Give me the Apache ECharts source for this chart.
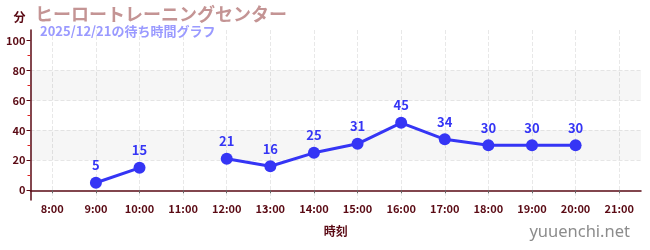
<!DOCTYPE html>
<html>
<head>
<meta charset="utf-8">
<script src="https://cdn.jsdelivr.net/npm/echarts@6/dist/echarts.min.js"></script>
<style>
html,body{margin:0;padding:0;background:#fff;}
#c{width:650px;height:250px;}
</style>
</head>
<body>
<div id="c"></div>
<script>
const categories = ['8:00','9:00','10:00','11:00','12:00','13:00','14:00','15:00','16:00','17:00','18:00','19:00','20:00','21:00'];
const waitTimes = [null, 5, 15, null, 21, 16, 25, 31, 45, 34, 30, 30, 30, null];
const yMajorTicks = [0, 20, 40, 60, 80, 100];
const yMinorTicks = [10, 30, 50, 70, 90];
const bands = [[20, 40], [60, 80]];
const titleText = 'ヒーロートレーニングセンター';
const subText = '2025/12/21の待ち時間グラフ';

const axisColor = '#5a0a14';
const chart = echarts.init(document.getElementById('c'), null, {renderer: 'canvas'});
chart.setOption({
  animation: false,
  backgroundColor: '#fff',
  title: [{
    text: titleText,
    left: 30, top: 0,
    textStyle: {fontFamily: 'Noto Sans CJK JP', fontSize: 18, fontWeight: 'bold', color: '#c49494'}
  }, {
    text: subText,
    left: 35, top: 20,
    textStyle: {fontFamily: 'Noto Sans CJK JP', fontSize: 13, fontWeight: 'bold', color: '#9a9aff'}
  }, {
    text: 'yuuenchi.net',
    right: 15, bottom: 4,
    textStyle: {fontFamily: 'Noto Sans', fontSize: 16.5, fontWeight: 'normal', color: '#8c8c8c'}
  }],
  grid: {left: 30.5, right: 9, top: 30, bottom: 50, containLabel: false},
  xAxis: {
    type: 'category',
    data: categories,
    boundaryGap: true,
    name: '時刻',
    nameLocation: 'middle',
    nameGap: 25,
    nameTextStyle: {fontFamily: 'Noto Sans CJK JP', fontSize: 12, fontWeight: 'bold', color: axisColor},
    axisLine: {lineStyle: {color: axisColor, width: 1.5}},
    axisTick: {show: true, alignWithLabel: true, length: 3, lineStyle: {color: '#666'}},
    axisLabel: {fontFamily: 'Noto Sans CJK JP', fontSize: 11, fontWeight: 'bold', color: axisColor, margin: 3},
    splitLine: {show: true, alignWithLabel: true, lineStyle: {color: '#e8e8e8', type: 'dashed'}}
  },
  yAxis: [{
    type: 'value',
    min: -6.5,
    max: 107,
    name: '分',
    nameLocation: 'end',
    nameGap: 7,
    nameTextStyle: {fontFamily: 'Noto Sans CJK JP', fontSize: 12, fontWeight: 'bold', color: axisColor, align: 'right', padding: [0, 5, 0, 0]},
    axisLine: {show: true, lineStyle: {color: axisColor, width: 1.5}},
    axisTick: {show: true, length: 4, customValues: yMajorTicks, lineStyle: {color: axisColor}},
    axisLabel: {fontFamily: 'Noto Sans CJK JP', fontSize: 11, fontWeight: 'bold', color: axisColor, margin: 5, customValues: yMajorTicks},
    splitLine: {show: true, showMinLine: false, showMaxLine: false, lineStyle: {color: '#e8e8e8', type: 'dashed'}},
    splitArea: {show: false}
  }, {
    type: 'value',
    min: -6.5,
    max: 107,
    position: 'left',
    axisLine: {show: false},
    axisTick: {show: true, length: 3, customValues: yMinorTicks, lineStyle: {color: '#dd2222'}},
    axisLabel: {show: false},
    splitLine: {show: false}
  }],
  series: [{
    type: 'line',
    data: waitTimes,
    connectNulls: false,
    symbol: 'circle',
    symbolSize: 12,
    lineStyle: {color: '#3535f5', width: 3},
    itemStyle: {color: '#3535f5'},
    label: {show: true, position: 'top', distance: 5, fontFamily: 'Noto Sans CJK JP', fontSize: 13, fontWeight: 'bold', color: '#3535f5'},
    markArea: {
      silent: true,
      itemStyle: {color: 'rgba(0,0,0,0.035)'},
      data: bands.map(b => [{yAxis: b[0]}, {yAxis: b[1]}])
    },
    z: 3
  }]
});
</script>
</body>
</html>
